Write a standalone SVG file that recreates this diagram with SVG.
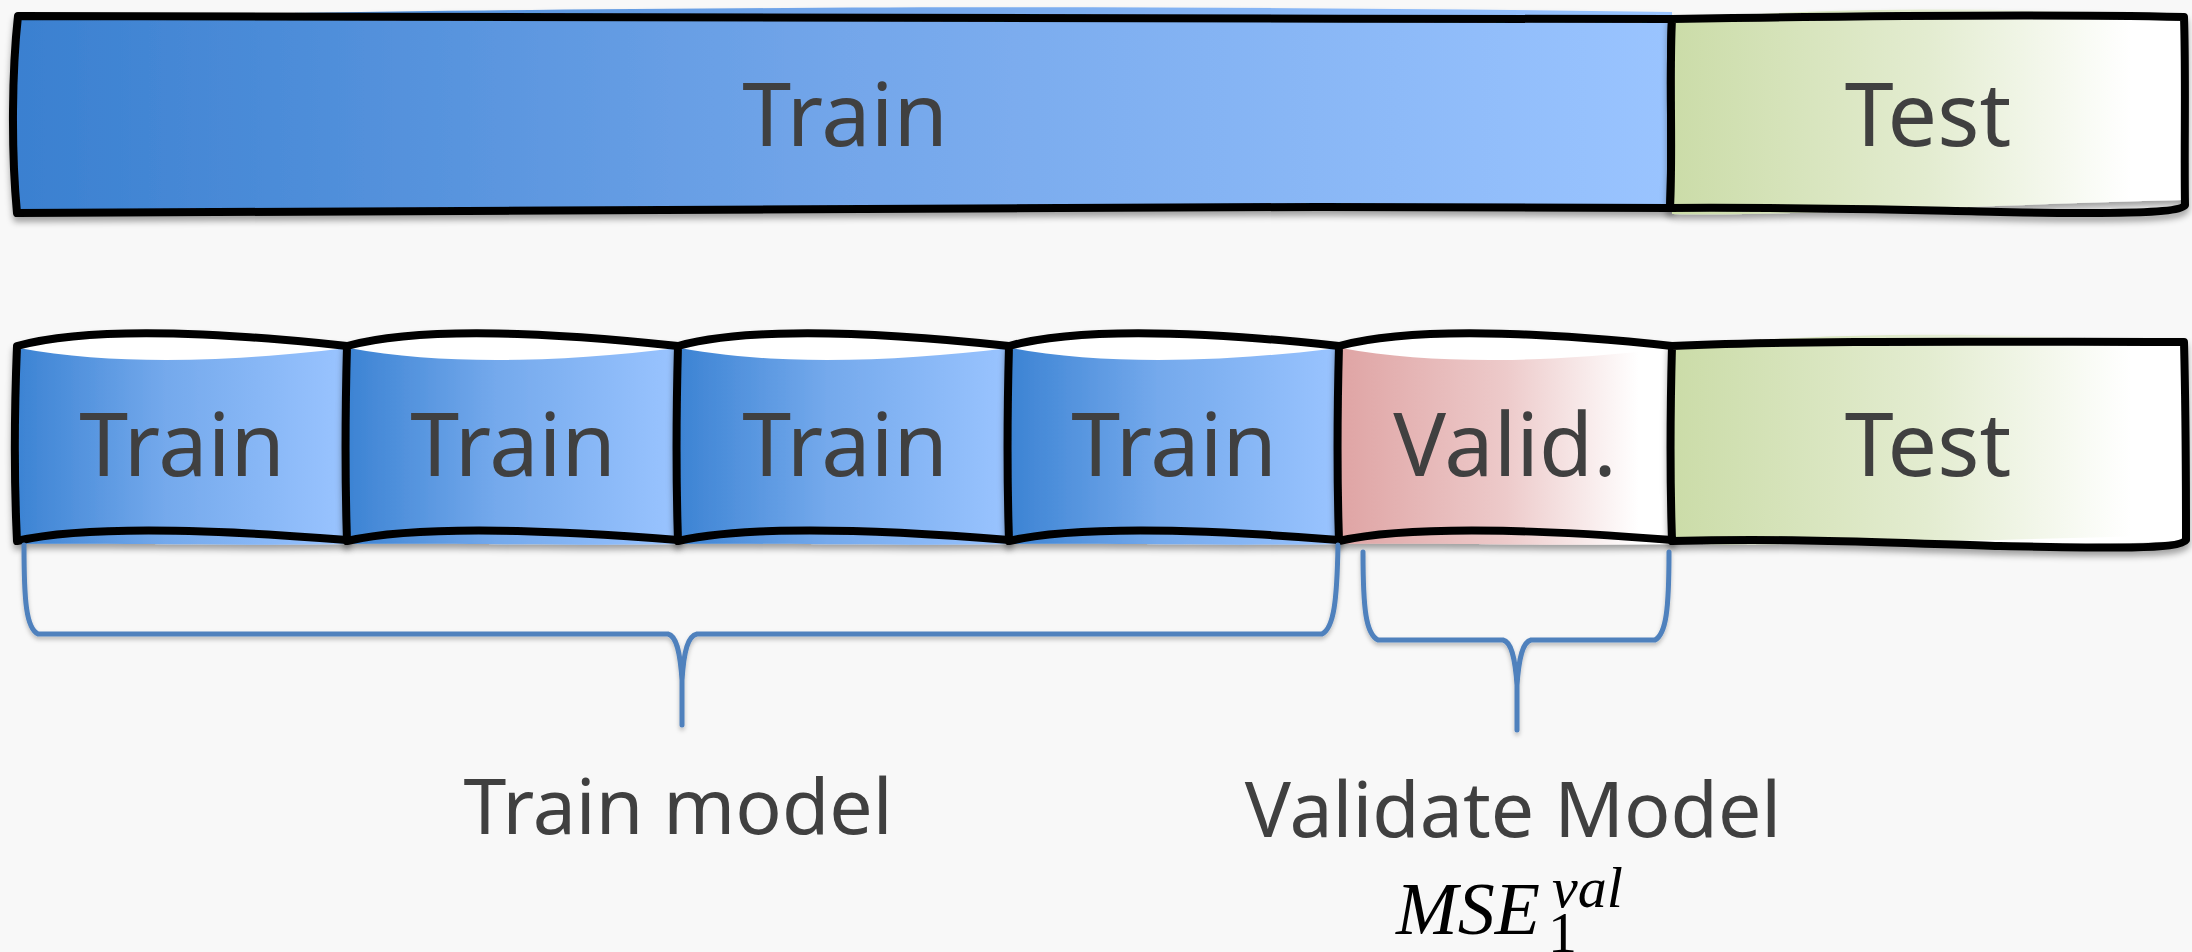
<svg xmlns="http://www.w3.org/2000/svg" width="2192" height="952" viewBox="0 0 2192 952">
  <defs>
    <linearGradient id="gTrainWide" gradientUnits="userSpaceOnUse" x1="17" y1="0" x2="1672" y2="0">
      <stop offset="0" stop-color="#3A80D0"/>
      <stop offset="0.5" stop-color="#73A6EA"/>
      <stop offset="1" stop-color="#9AC4FF"/>
    </linearGradient>
    <linearGradient id="gTrain" x1="0" y1="0" x2="1" y2="0">
      <stop offset="0" stop-color="#3C83D3"/>
      <stop offset="0.45" stop-color="#74A9EC"/>
      <stop offset="1" stop-color="#9AC4FF"/>
    </linearGradient>
    <linearGradient id="gTest" x1="0" y1="0" x2="1" y2="0">
      <stop offset="0" stop-color="#CBDCA8"/>
      <stop offset="0.5" stop-color="#E3ECD0"/>
      <stop offset="0.9" stop-color="#FFFFFF"/>
    </linearGradient>
    <linearGradient id="gValid" x1="0" y1="0" x2="1" y2="0">
      <stop offset="0" stop-color="#DFA4A4"/>
      <stop offset="0.5" stop-color="#EDCACA"/>
      <stop offset="0.9" stop-color="#FFFFFF"/>
    </linearGradient>
    <filter id="shadow" x="-5%" y="-10%" width="110%" height="130%">
      <feDropShadow dx="0" dy="5" stdDeviation="3" flood-color="#000" flood-opacity="0.35"/>
    </filter>
    <filter id="softShadow" x="-5%" y="-10%" width="110%" height="130%">
      <feDropShadow dx="0" dy="3" stdDeviation="2" flood-color="#000" flood-opacity="0.25"/>
    </filter>
  </defs>
  <style>
    .border { fill: none; stroke: #000; stroke-width: 8; stroke-linejoin: round; stroke-linecap: round; }
    .base { fill: #FFFFFF; }
    .label { font-family: "Comic Sans MS", "Noto Sans", sans-serif; fill: #404040; text-anchor: middle; }
    .big { font-size: 88px; }
    .caption { font-size: 77px; }
    .math { font-family: "Liberation Serif", "Times New Roman", serif; font-style: italic; fill: #000; }
    .brace { fill: none; stroke: #4F81BD; stroke-width: 5; stroke-linecap: round; stroke-linejoin: round; }
  </style>

  <rect width="2192" height="952" fill="#F8F8F8"/>

  <!-- Row 1: full data split -->
  <g id="train-all" filter="url(#shadow)">
    <path d="M18,18 C400,10 1000,2 1672,12 L1672,208 C1200,204 500,209 17,213 C11,150 12,70 18,18 Z" fill="url(#gTrainWide)"/>
    <path class="border" d="M18,16 C500,12 1100,20 1672,19 C1669,80 1673,150 1670,208 C1100,205 500,208 17,213 C11,150 12,70 18,16 Z"/>
    <text class="label big" x="845" y="146">Train</text>
  </g>
  <g id="test-all" filter="url(#shadow)">
    <path d="M1672,20 C1800,8 2000,6 2182,16 L2182,200 C2000,204 1800,216 1672,214 Z" fill="url(#gTest)"/>
    <path class="border" d="M1672,19 C1850,16 2050,14 2184,17 C2186,80 2184,150 2185,205 C2180,214 2100,214 2000,212 C1900,210 1800,207 1670,208 C1673,150 1669,80 1672,19 Z"/>
    <text class="label big" x="1928" y="146">Test</text>
  </g>

  <!-- Row 2: folds -->
  <g id="fold-1" filter="url(#shadow)">
    <path class="base" d="M17,346 C83,328 199,330 347,346 L347,540 C198,528 83,526 17,541 Z"/>
    <path d="M19,348 C116,366 232,362 347,348 L347,544 C215,546 116,543 17,544 Z" fill="url(#gTrain)"/>
    <path class="border" d="M17,346 C83,328 199,330 347,346 L347,540 C198,528 83,526 17,541 C14,480 14,420 17,346 Z"/>
    <text class="label big" x="182" y="476">Train</text>
  </g>
  <g id="fold-2" filter="url(#shadow)">
    <path class="base" d="M347,346 C413,328 529,330 678,346 L678,540 C529,528 413,526 347,541 Z"/>
    <path d="M349,348 C446,366 562,362 678,348 L678,544 C546,546 446,543 347,544 Z" fill="url(#gTrain)"/>
    <path class="border" d="M347,346 C413,328 529,330 678,346 L678,540 C529,528 413,526 347,541 C345,480 345,420 347,346 Z"/>
    <text class="label big" x="513" y="476">Train</text>
  </g>
  <g id="fold-3" filter="url(#shadow)">
    <path class="base" d="M678,346 C744,328 860,330 1009,346 L1009,540 C860,528 744,526 678,541 Z"/>
    <path d="M680,348 C777,366 893,362 1009,348 L1009,544 C877,546 777,543 678,544 Z" fill="url(#gTrain)"/>
    <path class="border" d="M678,346 C744,328 860,330 1009,346 L1009,540 C860,528 744,526 678,541 C676,480 676,420 678,346 Z"/>
    <text class="label big" x="845" y="476">Train</text>
  </g>
  <g id="fold-4" filter="url(#shadow)">
    <path class="base" d="M1009,346 C1075,328 1191,330 1339,346 L1339,540 C1190,528 1075,526 1009,541 Z"/>
    <path d="M1011,348 C1108,366 1224,362 1339,348 L1339,544 C1207,546 1108,543 1009,544 Z" fill="url(#gTrain)"/>
    <path class="border" d="M1009,346 C1075,328 1191,330 1339,346 L1339,540 C1190,528 1075,526 1009,541 C1007,480 1007,420 1009,346 Z"/>
    <text class="label big" x="1174" y="476">Train</text>
  </g>
  <g id="fold-valid" filter="url(#shadow)">
    <path class="base" d="M1339,346 C1406,328 1522,330 1672,346 L1672,540 C1522,528 1406,526 1339,541 Z"/>
    <path d="M1341,348 C1439,366 1556,362 1672,348 L1672,544 C1539,546 1439,543 1339,544 Z" fill="url(#gValid)"/>
    <path class="border" d="M1339,346 C1406,328 1522,330 1672,346 L1672,540 C1522,528 1406,526 1339,541 C1337,480 1337,420 1339,346 Z"/>
    <text class="label big" x="1505" y="476">Valid.</text>
  </g>
  <g id="fold-test" filter="url(#shadow)">
    <path class="base" d="M1672,346 C1800,340 2000,342 2184,342 L2186,540 C2100,548 1900,543 1672,541 Z"/>
    <path d="M1672,348 C1800,332 2000,330 2182,344 L2182,535 C2000,540 1800,546 1672,544 Z" fill="url(#gTest)"/>
    <path class="border" d="M1672,346 C1800,340 2000,342 2184,342 C2186,420 2186,500 2186,540 C2180,550 2100,548 2000,546 C1900,543 1800,538 1672,541 C1670,480 1670,420 1672,346 Z"/>
    <text class="label big" x="1928" y="476">Test</text>
  </g>

  <!-- Braces grouping the folds -->
  <g id="connectors" filter="url(#softShadow)">
    <path class="brace" d="M24,545 C24,600 26,628 38,634 L668,634 C676,636 680,650 682,680 L682,725 M682,680 C684,650 688,636 697,634 L1322,634 C1334,628 1337,600 1338,545"/>
    <path class="brace" d="M1363,552 C1363,610 1366,634 1378,640 L1503,640 C1511,642 1515,656 1517,685 L1517,730 M1517,685 C1519,656 1523,642 1531,640 L1655,640 C1666,634 1669,610 1669,552"/>
  </g>

  <!-- Captions -->
  <g id="caption-train">
    <text class="label caption" x="678" y="834">Train model</text>
  </g>
  <g id="caption-validate">
    <text class="label caption" x="1513" y="837">Validate Model</text>
    <text class="math" x="1396" y="934" font-size="74">MSE<tspan x="1552" y="907" font-size="58">val</tspan><tspan x="1548" y="952" font-size="58" font-style="normal">1</tspan></text>
  </g>
</svg>
